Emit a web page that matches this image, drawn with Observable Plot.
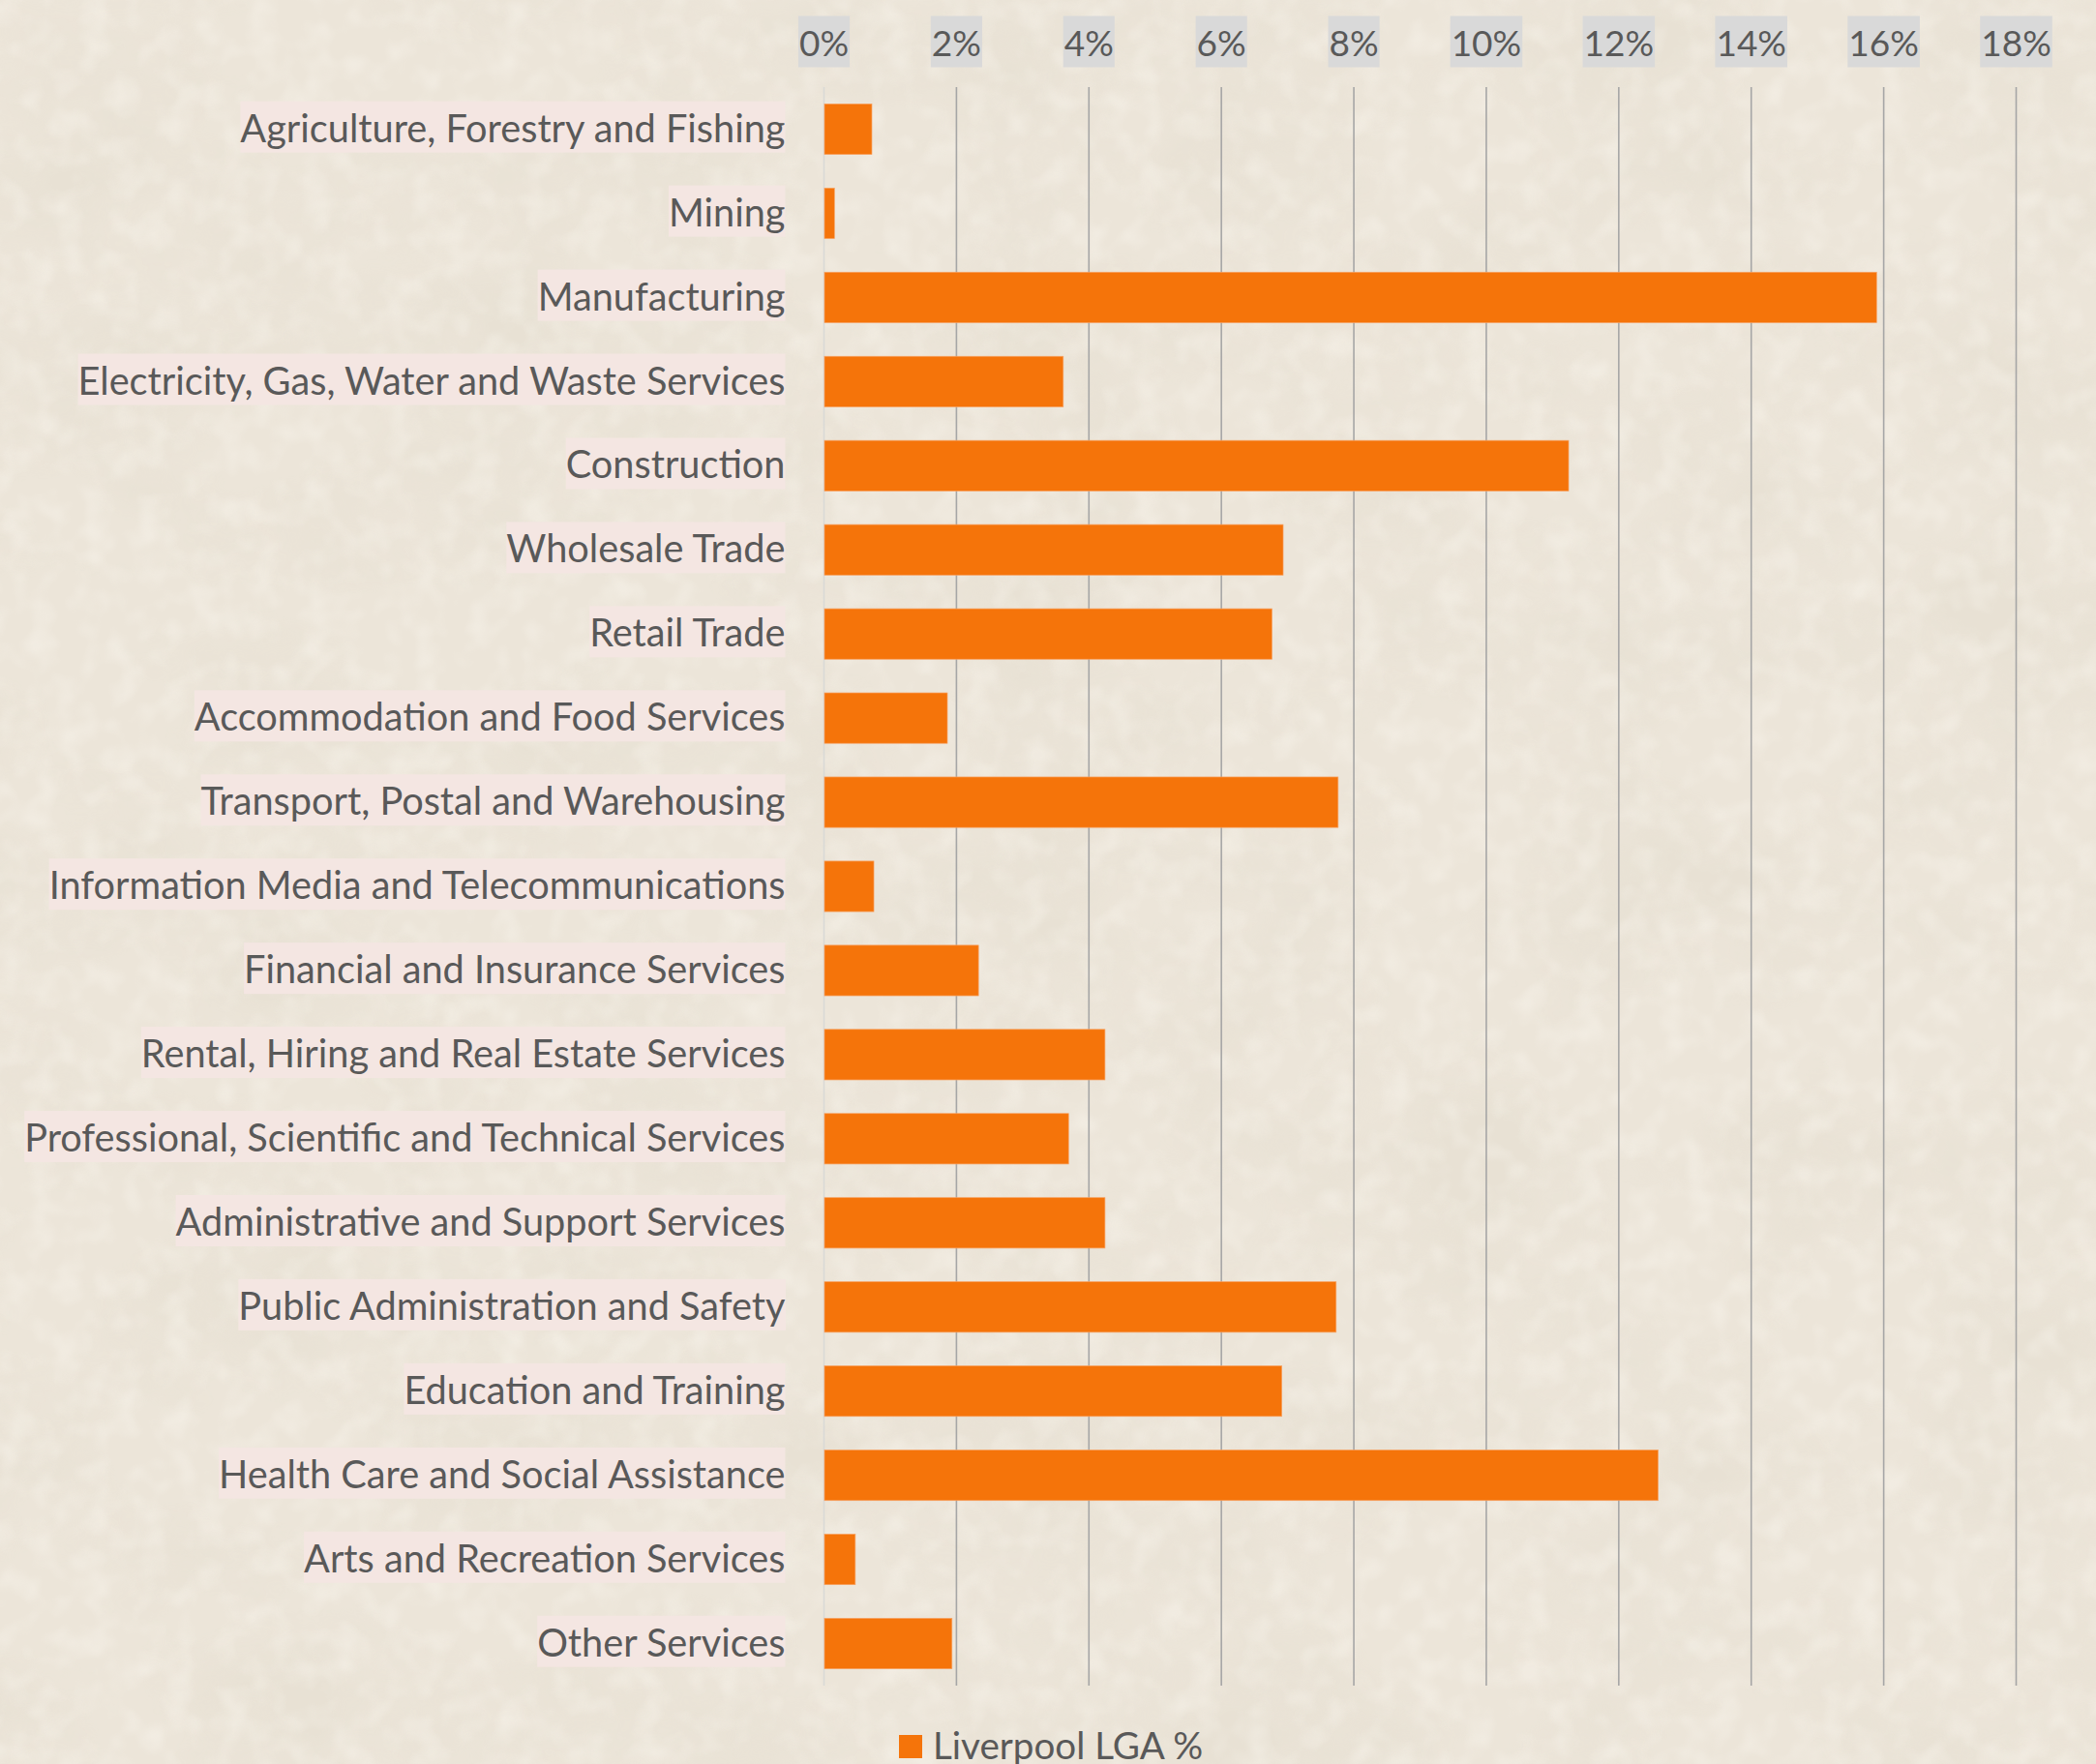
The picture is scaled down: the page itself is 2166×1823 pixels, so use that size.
<!DOCTYPE html>
<html>
<head>
<meta charset="utf-8">
<script src="https://cdn.jsdelivr.net/npm/d3@7"></script>
<script src="https://cdn.jsdelivr.net/npm/@observablehq/plot@0.6"></script>
<style>
  html, body { margin: 0; padding: 0; background: #ece5da; }
  body { width: 2166px; height: 1823px; overflow: hidden; position: relative; font-family: Lato, sans-serif; }
  #bg { position: absolute; left: 0; top: 0; z-index: 0; }
  #chart { position: absolute; left: 0; top: 0; width: 2166px; z-index: 1; }
  #chart svg { display: block; background: transparent; }
  #legend { position: relative; height: 48px; color: #595959; font: 38.6px Lato, sans-serif; }
  #legend i { position: absolute; left: 929px; top: 18px; width: 24px; height: 24px; background: #f5740a; }
  #legend span { position: absolute; left: 964px; top: 5px; line-height: 46px; white-space: pre; }
</style>
</head>
<body>
<svg id="bg" width="2166" height="1823" xmlns="http://www.w3.org/2000/svg">
  <defs>
    <filter id="coarse" x="0" y="0" width="100%" height="100%">
      <feTurbulence type="fractalNoise" baseFrequency="0.005 0.007" numOctaves="6" seed="23"/>
      <feColorMatrix type="matrix" values="0 0 0 0 0.78  0 0 0 0 0.73  0 0 0 0 0.63  2.6 0 0 0 -1.05"/>
    </filter>
    <filter id="fine" x="0" y="0" width="100%" height="100%">
      <feTurbulence type="fractalNoise" baseFrequency="0.035" numOctaves="2" seed="4"/>
      <feColorMatrix type="matrix" values="0 0 0 0 1  0 0 0 0 0.98  0 0 0 0 0.93  2.4 0 0 0 -1.05"/>
    </filter>
  </defs>
  <rect width="2166" height="1823" fill="#ece5d9"/>
  <rect width="2166" height="1823" filter="url(#coarse)" opacity="0.45"/>
  <rect width="2166" height="1823" filter="url(#fine)" opacity="0.3"/>
</svg>
<div id="chart"></div>
<script>
const industries = [
  "Agriculture, Forestry and Fishing", "Mining", "Manufacturing",
  "Electricity, Gas, Water and Waste Services", "Construction", "Wholesale Trade",
  "Retail Trade", "Accommodation and Food Services", "Transport, Postal and Warehousing",
  "Information Media and Telecommunications", "Financial and Insurance Services",
  "Rental, Hiring and Real Estate Services", "Professional, Scientific and Technical Services",
  "Administrative and Support Services", "Public Administration and Safety",
  "Education and Training", "Health Care and Social Assistance",
  "Arts and Recreation Services", "Other Services"
];
const shares = [0.73, 0.165, 15.9, 3.62, 11.25, 6.94, 6.77, 1.87, 7.77, 0.76, 2.34, 4.25, 3.7, 4.25, 7.74, 6.92, 12.6, 0.48, 1.94];
const xTicks = [0, 2, 4, 6, 8, 10, 12, 14, 16, 18];
const seriesName = "Liverpool LGA %";

const rows = industries.map((name, i) => ({name, value: shares[i]}));
const ink = "#595959";

const plot = Plot.plot({
  width: 2166,
  height: 1775,
  marginLeft: 851,
  marginRight: 83,
  marginTop: 90,
  marginBottom: 33,
  style: {background: "transparent", fontFamily: "Lato, sans-serif"},
  x: {domain: [0, 18], axis: null},
  y: {domain: industries, axis: null, paddingInner: 0.4, paddingOuter: 0.2, round: false},
  marks: [
    Plot.ruleX(xTicks.filter(d => d > 0), {stroke: "#a6a6a6", strokeWidth: 1.6}),
    Plot.ruleX([0], {stroke: "#d9d9d6", strokeWidth: 1.6}),
    Plot.barX(rows, {y: "name", x: "value", fill: "#f5740a", stroke: "#f8a060", strokeWidth: 0.7, insetLeft: 1}),
    Plot.axisX({anchor: "top", ticks: xTicks, tickSize: 0, tickPadding: 33, tickFormat: d => d + "%",
      label: null, fontSize: 37, color: ink, fill: ink}),
    Plot.axisY({anchor: "left", tickSize: 0, tickPadding: 40, label: null, fontSize: 39.7, color: ink, fill: ink})
  ]
});
document.getElementById("chart").appendChild(plot);

const legend = document.createElement("div");
legend.id = "legend";
legend.innerHTML = "<i></i><span></span>";
legend.querySelector("span").textContent = seriesName;
document.getElementById("chart").appendChild(legend);

// Label backing plates, sized from the real text boxes.
plot.querySelectorAll('g[aria-label$="axis tick label"]').forEach(g => {
  const isX = g.getAttribute("aria-label").startsWith("x");
  g.querySelectorAll("text").forEach(t => {
    const b = t.getBBox();
    const rect = document.createElementNS("http://www.w3.org/2000/svg", "rect");
    const h = 53;
    const padX = isX ? 1 : 0;
    rect.setAttribute("x", b.x - padX);
    rect.setAttribute("y", b.y + b.height / 2 - h / 2);
    rect.setAttribute("width", b.width + 2 * padX);
    rect.setAttribute("height", h);
    rect.setAttribute("fill", isX ? "#d9d9d9" : "#f4e6e2");
    rect.setAttribute("stroke", "none");
    const tf = t.getAttribute("transform");
    if (tf) rect.setAttribute("transform", tf);
    g.insertBefore(rect, t);
  });
});
</script>
</body>
</html>
